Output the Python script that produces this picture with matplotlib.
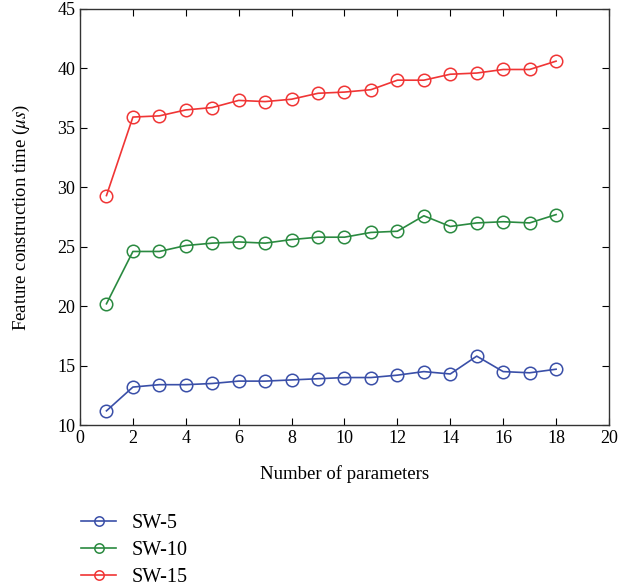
import matplotlib
matplotlib.use("Agg")
from matplotlib import pyplot

params = list(range(1, 19))
sw5 = [11.2, 13.2, 13.4, 13.4, 13.5, 13.7, 13.7, 13.8, 13.9, 14.0, 14.0, 14.2, 14.5, 14.3, 15.8, 14.5, 14.4, 14.7]
sw10 = [20.2, 24.6, 24.6, 25.1, 25.3, 25.4, 25.3, 25.6, 25.8, 25.8, 26.2, 26.3, 27.6, 26.7, 27.0, 27.1, 27.0, 27.7]
sw15 = [29.3, 35.9, 36.0, 36.5, 36.7, 37.3, 37.2, 37.4, 37.9, 38.0, 38.2, 39.0, 39.0, 39.5, 39.6, 39.9, 39.9, 40.6]

series = [("SW-5", sw5, "#3a4fa8"), ("SW-10", sw10, "#2a8a40"), ("SW-15", sw15, "#f03535")]

pyplot.rcParams["font.family"] = "Liberation Serif"
pyplot.rcParams["mathtext.fontset"] = "stix"

fig = pyplot.figure(figsize=(6.35, 5.88), dpi=100)
ax = fig.add_axes([0.126, 0.277, 0.833, 0.708])

lines = []
for name, values, color in series:
    line, = ax.plot(params, values, "-o", color=color, markerfacecolor="none",
                    markeredgecolor=color, markersize=9, markeredgewidth=1.1,
                    linewidth=1.2, label=name)
    lines.append(line)

ax.set_xlim(0, 20)
ax.set_ylim(10, 45)
ax.set_xticks(range(0, 21, 2))
ax.set_yticks(range(10, 46, 5))
ax.tick_params(direction="in", top=True, right=True, labelsize=13, length=5)
for spine in ax.spines.values():
    spine.set_linewidth(1.0)
    spine.set_color("#333333")
ax.set_xlabel("Number of parameters", fontsize=13.5, labelpad=13)
ax.set_ylabel(r"Feature construction time ($\mu s$)", fontsize=13.5, labelpad=18)

fig.legend(handles=lines, loc="lower left", bbox_to_anchor=(0.115, -0.012),
           frameon=False, fontsize=14.5, handlelength=1.75, handletextpad=0.75,
           labelspacing=0.4, markerscale=0.75, borderaxespad=0.0)

fig.savefig("out.png", dpi=100)
